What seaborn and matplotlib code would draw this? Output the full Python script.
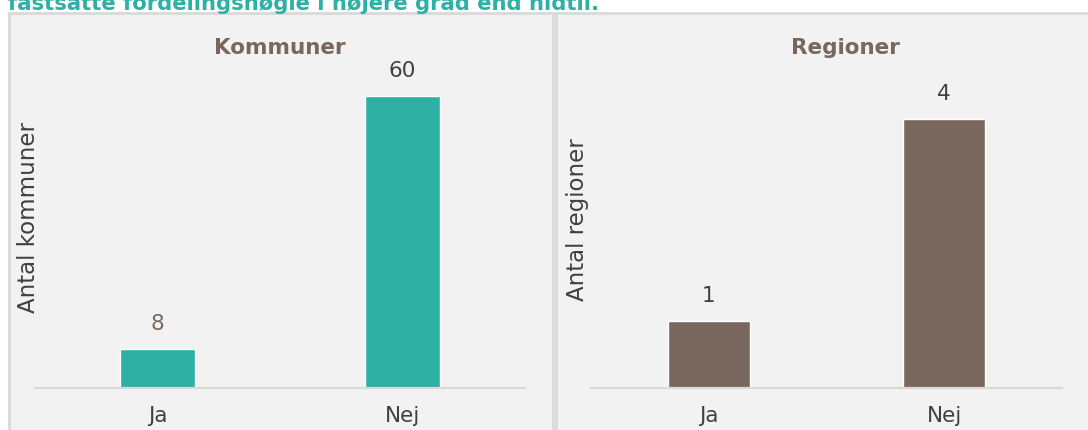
import matplotlib
matplotlib.use("Agg")
import matplotlib.pyplot as plt
from matplotlib.patches import Rectangle
import seaborn as sns
import pandas as pd

# data
answers = ["Ja", "Nej"]
kommuner_counts = [8, 60]
regioner_counts = [1, 4]
kommuner_label_colors = ["#7A675D", "#404040"]
regioner_label_colors = ["#404040", "#404040"]

title_text = "fastsatte fordelingsnøgle i højere grad end hidtil."
teal = "#2EB0A4"
brown = "#79675D"
panel_bg = "#F2F2F2"
panel_edge = "#D9D9D9"

sns.set_theme(style="white")
plt.rcParams["font.family"] = ["DejaVu Sans"]

W, H = 1088, 430
fig = plt.figure(figsize=(W / 100, H / 100), dpi=100)
fig.patch.set_facecolor("white")


def px_box(x0, y0, x1, y1):
    """pixel box (top-left origin) -> figure fraction [l, b, w, h]"""
    return [x0 / W, 1 - y1 / H, (x1 - x0) / W, (y1 - y0) / H]


# panel backgrounds (behind the axes)
for x0, x1 in [(9, 553), (556, 1095)]:
    l, b, w, h = px_box(x0, 13, x1, 440)
    fig.patches.append(Rectangle((l, b), w, h, transform=fig.transFigure,
                                 facecolor=panel_bg, edgecolor=panel_edge,
                                 linewidth=2, zorder=-5))

# cut-off heading from the page above the charts
fig.text(8 / W, 1 - 10 / H, title_text, color=teal, fontsize=15.2,
         fontweight="bold", ha="left", va="baseline")


def draw_panel(box, counts, label_colors, color, width, ymax, panel_title,
               title_x, ylabel, ylabel_x, ylabel_y):
    ax = fig.add_axes(px_box(*box))
    ax.set_facecolor("none")
    df = pd.DataFrame({"svar": answers, "antal": counts})
    sns.barplot(data=df, x="svar", y="antal", color=color, width=width,
                saturation=1, ax=ax)
    ax.set_xlim(-0.5, 1.5)
    ax.set_ylim(0, ymax)
    ax.bar_label(ax.containers[0], padding=11, fontsize=15.5, color="#404040")
    for txt, c in zip(ax.texts, label_colors):
        txt.set_color(c)
    for s in ["top", "left", "right"]:
        ax.spines[s].set_visible(False)
    ax.spines["bottom"].set_color(panel_edge)
    ax.spines["bottom"].set_linewidth(1.6)
    ax.set_yticks([])
    ax.tick_params(axis="x", length=0, pad=13, labelsize=15.5, labelcolor="#404040")
    ax.set_xlabel("")
    ax.set_ylabel(ylabel, fontsize=16.5, color="#404040")
    ax.yaxis.label.set_va("center")
    ax.yaxis.set_label_coords(ylabel_x, ylabel_y)
    fig.text(title_x / W, 1 - 48 / H, panel_title, fontsize=15.5,
             fontweight="bold", color=brown, ha="center", va="center")
    return ax


draw_panel((35, 30, 525, 388), kommuner_counts, kommuner_label_colors, teal,
           0.31, 73.6, "Kommuner", 280, "Antal kommuner", -0.013, 0.475)
draw_panel((591, 30, 1062, 388), regioner_counts, regioner_label_colors, brown,
           0.35, 5.33, "Regioner", 845, "Antal regioner", -0.028, 0.47)

fig.savefig("out.png", dpi=100, facecolor="white")
